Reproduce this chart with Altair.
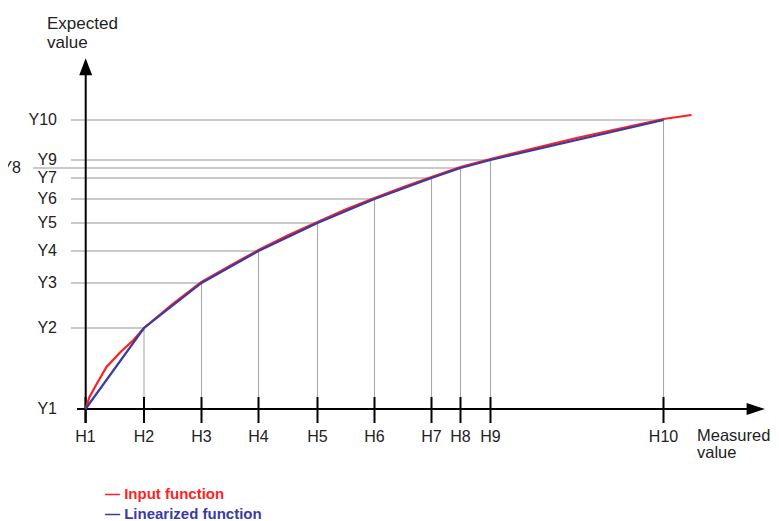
import altair as alt
import pandas as pd

# ---- data ----
h_labels = ["H1", "H2", "H3", "H4", "H5", "H6", "H7", "H8", "H9", "H10"]
y_labels = ["Y1", "Y2", "Y3", "Y4", "Y5", "Y6", "Y7", "Y8", "Y9", "Y10"]
h_values = [0, 58.5, 116, 173, 232, 289, 346, 375, 405, 578]
y_values = [0, 81, 126, 158, 186, 210, 231, 241, 249, 289]

input_x = [0, 4, 10, 21, 35, 48, 58.5, 87, 116, 145, 173, 202, 232, 260, 289, 318,
           346, 375, 405, 491, 578, 606]
input_y = [0, 12, 23, 42, 57, 69, 81, 105, 127, 143.5, 159, 173.5, 187, 199.5, 211,
           222, 232, 242, 250, 271, 290, 294]

W, H = 763, 513
RED = "#ff1f1f"
BLUE = "#3a3aa6"
FONT = "Liberation Sans"

xs = alt.Scale(domain=[-77.5, W - 77.5], nice=False, zero=False)
ys = alt.Scale(domain=[401 - H, 401], nice=False, zero=False)

pts = pd.DataFrame({"h": h_values, "y": y_values, "hl": h_labels, "yl": y_labels,
                    "idx": list(range(10))})
inp = pd.DataFrame({"x": input_x, "y": input_y, "o": list(range(len(input_x)))})
lin = pd.DataFrame({"x": h_values, "y": y_values, "o": list(range(10))})
one = pd.DataFrame({"a": [0]})

X = lambda f: alt.X(f, type="quantitative", scale=xs, axis=None)
Y = lambda f: alt.Y(f, type="quantitative", scale=ys, axis=None)

# horizontal guide lines (from left to curve point)
hgrid = alt.Chart(pts).transform_filter("datum.idx > 0 && datum.idx != 7").mark_rule(
    color="#b8b8b8", strokeWidth=1.6).encode(
    x=X("h"), x2=alt.value(63), y=Y("y"))
hgrid8 = alt.Chart(pts).transform_filter("datum.idx == 7").mark_rule(
    color="#b8b8b8", strokeWidth=1.6).encode(
    x=X("h"), x2=alt.value(25), y=Y("y"))
# vertical guide lines (from curve point down to axis)
vgrid = alt.Chart(pts).transform_filter("datum.idx > 0").mark_rule(
    color="#a8a8a8", strokeWidth=1.1).encode(
    x=X("h"), y=Y("y"), y2=alt.value(401))

# axes
yaxis = alt.Chart(one).mark_rule(color="black", strokeWidth=2).encode(
    x=alt.value(77.7), y=alt.value(65), y2=alt.value(415))
xaxis = alt.Chart(one).mark_rule(color="black", strokeWidth=2).encode(
    y=alt.value(401), x=alt.value(69), x2=alt.value(741))
up_arrow = alt.Chart(one).mark_point(
    shape="M0,-1L-0.76,1L0.76,1Z", filled=True, color="black", opacity=1,
    size=289, strokeWidth=0).encode(x=alt.value(77.7), y=alt.value(58.7))
right_arrow = alt.Chart(one).mark_point(
    shape="M1,0L-1,-0.66L-1,0.66Z", filled=True, color="black", opacity=1,
    size=335, strokeWidth=0).encode(x=alt.value(747.8), y=alt.value(401))
ticks = alt.Chart(pts).mark_rule(color="black", strokeWidth=2).encode(
    x=X("h"), y=alt.value(389), y2=alt.value(415))

# curves
red = alt.Chart(inp).mark_line(color=RED, strokeWidth=2.2).encode(
    x=X("x"), y=Y("y"), order="o:Q")
blue = alt.Chart(lin).mark_line(color=BLUE, strokeWidth=2.2).encode(
    x=X("x"), y=Y("y"), order="o:Q")

# labels
ylab = alt.Chart(pts).transform_filter("datum.idx != 7").mark_text(
    align="right", baseline="middle", font=FONT, fontSize=16, color="#222").encode(
    x=alt.value(49), y=Y("y"), text="yl:N")
ylab8 = alt.Chart(pts).transform_filter("datum.idx == 7").mark_text(
    align="right", baseline="middle", font=FONT, fontSize=16, color="#222").encode(
    x=alt.value(13), y=Y("y"), text="yl:N")
hlab = alt.Chart(pts).mark_text(
    align="center", baseline="middle", font=FONT, fontSize=16, color="#222").encode(
    x=X("h"), y=alt.value(429), text="hl:N")
ytitle = alt.Chart(one).mark_text(
    align="left", baseline="middle", font=FONT, fontSize=17, color="#222",
    lineHeight=19, text=["Expected", "value"]).encode(x=alt.value(39), y=alt.value(16))
xtitle = alt.Chart(one).mark_text(
    align="left", baseline="middle", font=FONT, fontSize=16.5, color="#222",
    lineHeight=17, text=["Measured", "value"]).encode(x=alt.value(689), y=alt.value(428))
leg1 = alt.Chart(one).mark_text(
    align="left", baseline="middle", font=FONT, fontSize=15, fontWeight="bold",
    color=RED, text="\u2014 Input function").encode(x=alt.value(97), y=alt.value(486))
leg2 = alt.Chart(one).mark_text(
    align="left", baseline="middle", font=FONT, fontSize=15, fontWeight="bold",
    color=BLUE, text="\u2014 Linearized function").encode(x=alt.value(97), y=alt.value(506))

chart = alt.layer(
    hgrid, hgrid8, vgrid, yaxis, xaxis, ticks, up_arrow, right_arrow,
    red, blue, ylab, ylab8, hlab, ytitle, xtitle, leg1, leg2
).properties(
    width=W, height=H, padding=0, autosize=alt.AutoSizeParams(type="none")
).configure_view(stroke=None)

chart.save("out.html", embed_options={"renderer": "svg", "actions": False})
